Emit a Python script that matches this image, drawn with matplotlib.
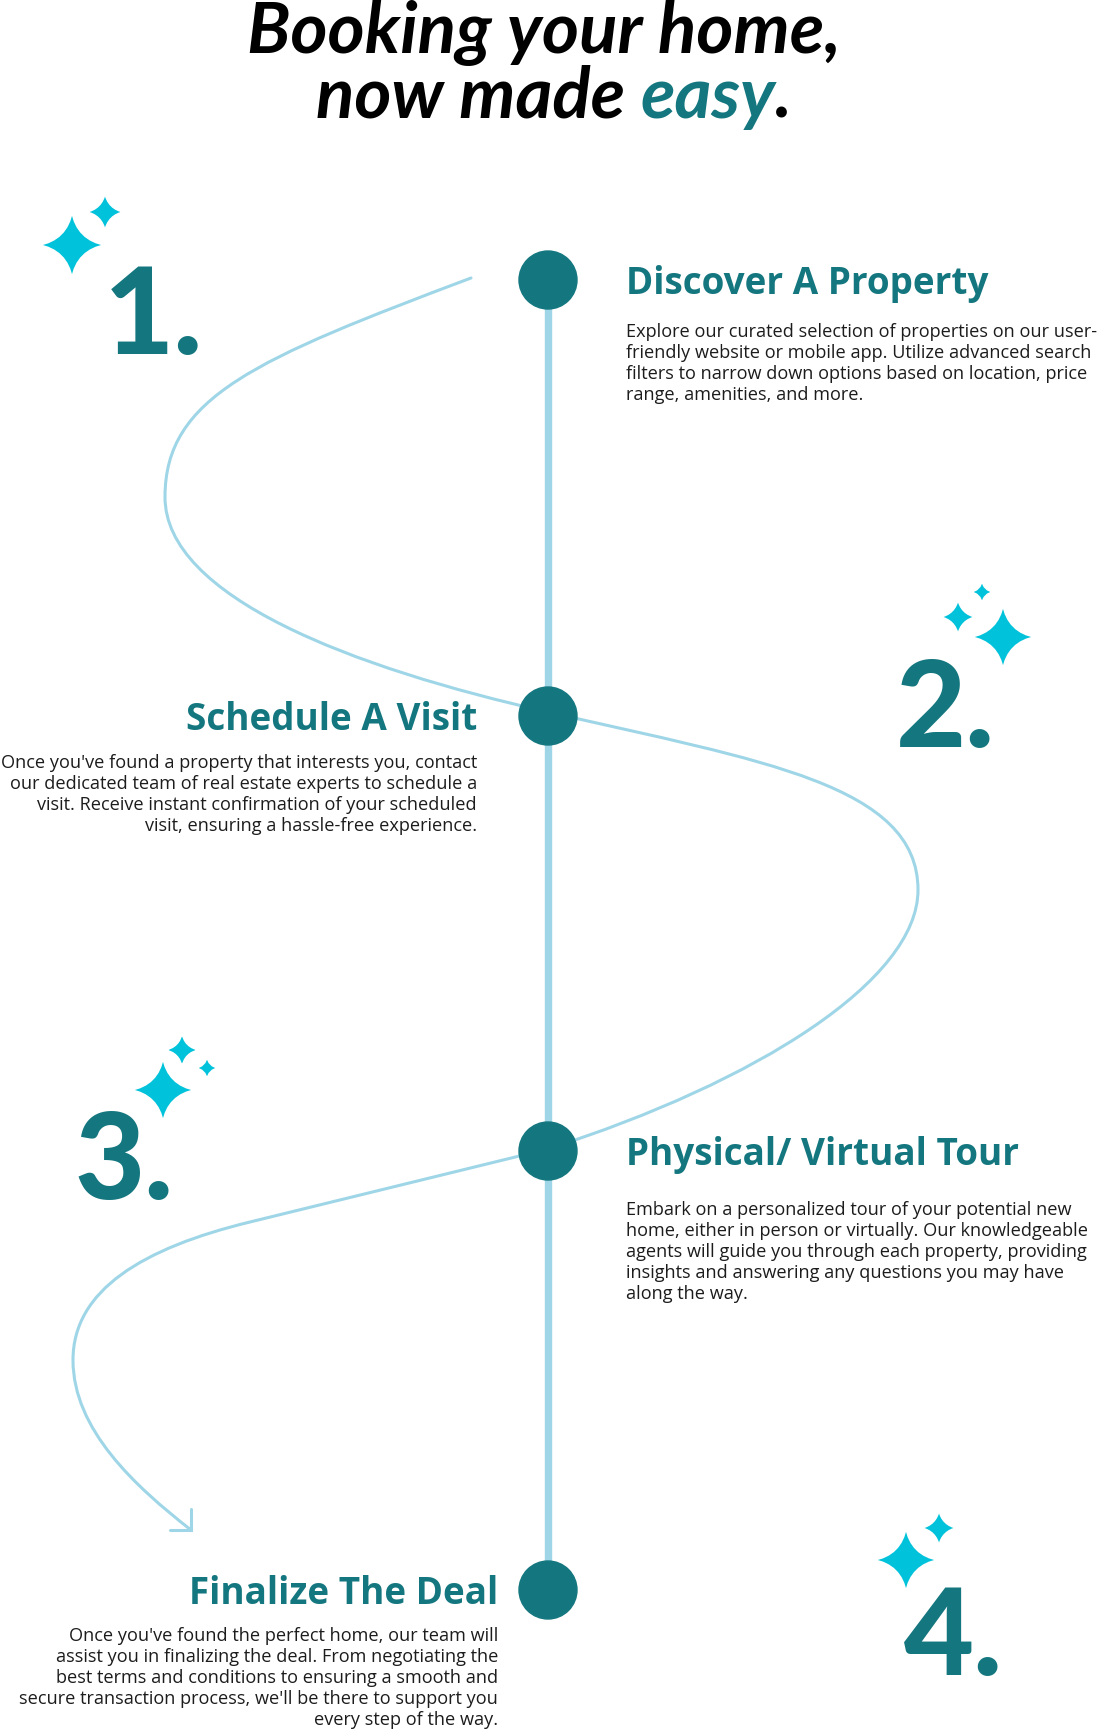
import matplotlib
matplotlib.use("Agg")
import matplotlib.pyplot as plt
from matplotlib import font_manager
from matplotlib.font_manager import FontProperties
from matplotlib.path import Path
from matplotlib.patches import PathPatch, Circle
from matplotlib.textpath import TextPath

W, H, DPI = 1102, 1730, 100

TEAL = "#14777f"
LIGHT = "#9fd6e7"
CYAN = "#00c2da"
INK = "#1c1c1c"

# ---- content ----
title_line1 = "Booking your home,"
title_line2 = ["now made", "easy", "."]

step_numbers = ["1.", "2.", "3.", "4."]
step_titles = ["Discover A Property", "Schedule A Visit",
               "Physical/ Virtual Tour", "Finalize The Deal"]
step_bodies = [
    ["Explore our curated selection of properties on our user-",
     "friendly website or mobile app. Utilize advanced search",
     "filters to narrow down options based on location, price",
     "range, amenities, and more."],
    ["Once you've found a property that interests you, contact",
     "our dedicated team of real estate experts to schedule a",
     "visit. Receive instant confirmation of your scheduled",
     "visit, ensuring a hassle-free experience."],
    ["Embark on a personalized tour of your potential new",
     "home, either in person or virtually. Our knowledgeable",
     "agents will guide you through each property, providing",
     "insights and answering any questions you may have",
     "along the way."],
    ["Once you've found the perfect home, our team will",
     "assist you in finalizing the deal. From negotiating the",
     "best terms and conditions to ensuring a smooth and",
     "secure transaction process, we'll be there to support you",
     "every step of the way."],
]

# ---- layout (pixels, y down) ----
node_x = 548
node_y = [280, 716, 1151, 1590]
node_r = 29
text_side = ["left", "right", "left", "right"]   # alignment of the text block
heading_x = [626, 477, 626, 498]
body_first = [337, 768, 1215, 1641]
body_gap = 21
number_x = [104, 896, 74, 904]
number_base = [354, 747, 1199, 1675]
sparkles = [
    [(105, 212, 19), (72, 245, 33)],
    [(982, 592, 11), (958, 617, 18), (1003, 637, 32)],
    [(207, 1068, 11), (182, 1050, 17), (163, 1090, 32)],
    [(939, 1528, 18), (906, 1560, 32)],
]
# winding path: start point then cubic segments (c1, c2, end)
path_start = (471, 278)
path_segments = [
    ((256, 359), (165, 397), (165, 497)),
    ((165, 597), (353, 668), (548, 712)),
    ((762, 761), (918, 785), (918, 890)),
    ((918, 980), (757, 1082), (548, 1149)),
    ((449, 1173), (349, 1198), (250, 1222)),
    ((143, 1248), (73, 1290), (73, 1360)),
    ((73, 1430), (136, 1487), (191, 1530)),
]
arrow_len = 21


def _w(v):
    return v if isinstance(v, int) else font_manager.weight_dict.get(v, 400)


def pick(cands, weight=400, style="normal"):
    # only accept a family that really ships a face close to the wanted weight
    for fam in cands:
        for f in font_manager.fontManager.ttflist:
            if f.name == fam and f.style == style and abs(_w(f.weight) - weight) <= 100:
                return FontProperties(family=fam, weight=_w(f.weight), style=style)
    return FontProperties(weight=weight, style=style)


def ink(s, fp):
    return TextPath((0, 0), s, size=100, prop=fp).get_extents()


def sized(fp, em):
    f = fp.copy()
    f.set_size(em * 72 / DPI)
    return f


def sparkle(cx, cy, r, k=0.15):
    pts = [(cx, cy - r), (cx + k * r, cy - k * r), (cx + r, cy),
           (cx + k * r, cy + k * r), (cx, cy + r), (cx - k * r, cy + k * r),
           (cx - r, cy), (cx - k * r, cy - k * r), (cx, cy - r), (cx, cy - r)]
    codes = [Path.MOVETO] + [Path.CURVE3] * 8 + [Path.CLOSEPOLY]
    return Path(pts, codes)


TITLE_FP = pick(["Lato", "Open Sans", "DejaVu Sans"], weight=700, style="italic")
HEAD_FP = pick(["Noto Sans", "Open Sans", "Roboto", "Lato"], weight=600)
BODY_FP = pick(["Open Sans", "Noto Sans", "Lato"], weight=400)
NUM_FP = pick(["Lato", "Roboto"], weight=900)

fig = plt.figure(figsize=(W / DPI, H / DPI), dpi=DPI)
ax = fig.add_axes([0, 0, 1, 1])
ax.set_xlim(0, W)
ax.set_ylim(H, 0)
ax.axis("off")

# winding guide line
verts = [path_start]
codes = [Path.MOVETO]
for seg in path_segments:
    verts += list(seg)
    codes += [Path.CURVE4] * 3
ax.add_patch(PathPatch(Path(verts, codes), fill=False, edgecolor=LIGHT,
                       lw=2.2, capstyle="round", zorder=1))
tip = path_segments[-1][-1]
ax.plot([tip[0], tip[0], tip[0] - arrow_len],
        [tip[1] - arrow_len, tip[1], tip[1]],
        color=LIGHT, lw=2.2, solid_capstyle="round", solid_joinstyle="miter", zorder=1)

# timeline
ax.plot([node_x, node_x], [node_y[0], node_y[-1]], color=LIGHT, lw=5.3,
        solid_capstyle="butt", zorder=2)
for y in node_y:
    ax.add_patch(Circle((node_x, y), node_r, color=TEAL, zorder=3))

# sparkles
for group in sparkles:
    for cx, cy, r in group:
        ax.add_patch(PathPatch(sparkle(cx, cy, r + 1), facecolor=CYAN,
                               edgecolor="white", lw=1.6, zorder=4))

# main title
em_t = 100 * 586 / ink(title_line1, TITLE_FP).width
fp_t = sized(TITLE_FP, em_t)
ax.text(544, 53, title_line1, fontproperties=fp_t, color="black",
        ha="center", va="baseline", zorder=5)
full2 = " ".join(title_line2[:2]) + title_line2[2]
sc = em_t / 100
e_full = ink(full2, TITLE_FP)
left2 = 551 - e_full.width * sc / 2
x_easy = left2 + (ink(title_line2[0] + " e", TITLE_FP).xmax - ink("e", TITLE_FP).width
                  - e_full.xmin) * sc
x_dot = left2 + (e_full.xmax - ink(".", TITLE_FP).width - e_full.xmin) * sc
ax.text(left2, 118, title_line2[0], fontproperties=fp_t, color="black",
        ha="left", va="baseline", zorder=5)
ax.text(x_easy, 118, title_line2[1], fontproperties=fp_t, color=TEAL,
        ha="left", va="baseline", zorder=5)
ax.text(x_dot, 118, title_line2[2], fontproperties=fp_t, color="black",
        ha="left", va="baseline", zorder=5)

# steps
em_h = 100 * 360 / ink(step_titles[0], HEAD_FP).width
em_b = 100 * 468 / ink(step_bodies[0][0], BODY_FP).width
em_n = 100 * 88 / ink("1", NUM_FP).height
fp_h = sized(HEAD_FP, em_h)
fp_b = sized(BODY_FP, em_b)
fp_n = sized(NUM_FP, em_n)

for i in range(4):
    ha = text_side[i]
    ax.text(heading_x[i], node_y[i] + 14, step_titles[i], fontproperties=fp_h,
            color=TEAL, ha=ha, va="baseline", zorder=5)
    for j, line in enumerate(step_bodies[i]):
        ax.text(heading_x[i], body_first[i] + j * body_gap, line, fontproperties=fp_b,
                color=INK, ha=ha, va="baseline", zorder=5)
    ax.text(number_x[i], number_base[i], step_numbers[i], fontproperties=fp_n,
            color=TEAL, ha="left", va="baseline", zorder=5)

fig.savefig("out.png", dpi=DPI, facecolor="white")
